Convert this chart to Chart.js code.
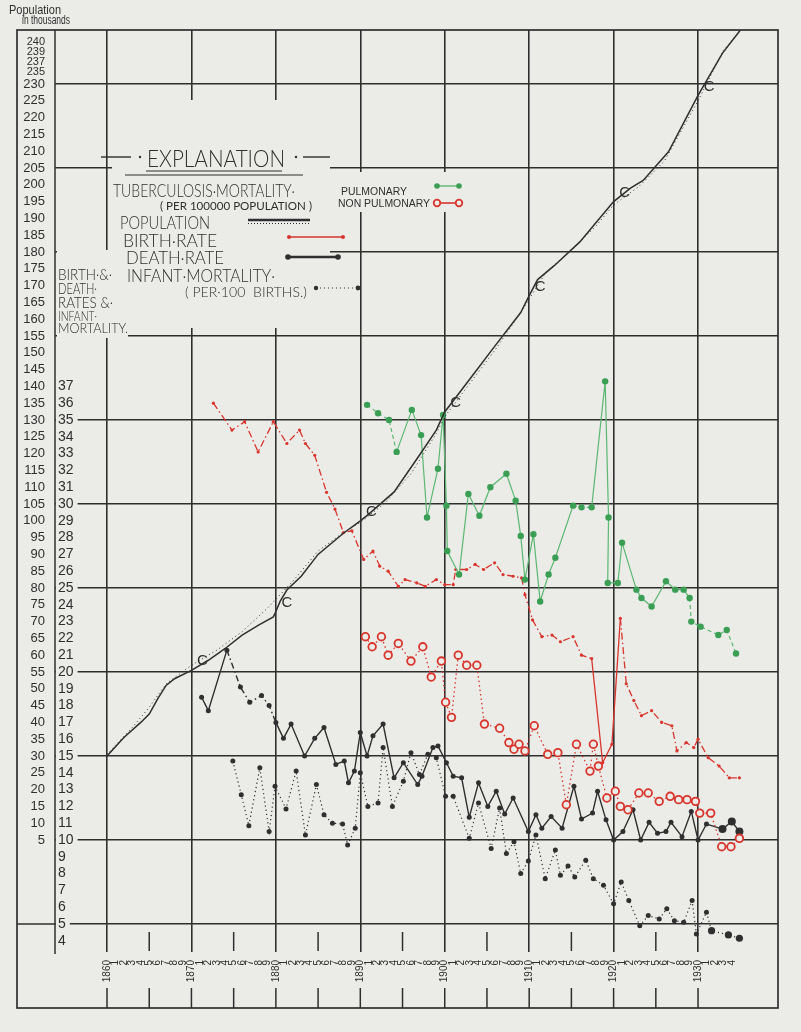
<!DOCTYPE html>
<html><head><meta charset="utf-8">
<script src="https://cdn.jsdelivr.net/npm/chart.js@4.4.1/dist/chart.umd.min.js"></script>
<style>html,body{margin:0;padding:0;background:#ebebe8;}</style>
</head><body>
<canvas id="c" width="801" height="1032"></canvas>
<script>
// ---------- DATA ----------
// x = year, y = value on the chart's scale
const tickYears = Array.from({length: 75}, (_, i) => 1860 + i);   // 1860 .. 1934
const rateTicks = [4,5,6,7,8,9,10,11,12,13,14,15,16,17,18,19,20,21,22,23,24,25,26,27,28,29,30,31,32,33,34,35,36,37];
const rateGridOnly = [40,45,50,55];
const popTicks = [5,10,15,20,25,30,35,40,45,50,55,60,65,70,75,80,85,90,95,100,105,110,115,120,125,130,135,140,145,150,155,160,165,170,175,180,185,190,195,200,205,210,215,220,225,230];
const popTopTick = 238;                       // the crowded top of the population column
const popTopLabels = ['240','239','237','235'];
const censusYears = [1870,1880,1890,1900,1910,1920,1930];

// population in thousands
const population = [[1860,30],[1862,35.5],[1864,40],[1865,42.5],[1866,47],[1867,51],[1868,53],[1870,55.5],[1872,58.5],[1874,62],[1876,66],[1878,69],[1879.7,71.4],[1880,73],[1880.5,76],[1881.3,79.4],[1883,83.5],[1885,90],[1888,96.3],[1890,100],[1891,102],[1894,108.6],[1897,119.5],[1899,127],[1900,132.4],[1903,142.3],[1906,152.2],[1909,162],[1910,167],[1911,171.8],[1913,176],[1916,183],[1918,189],[1920,195],[1922,199],[1923.5,201.3],[1926.5,209.8],[1928,217],[1930,226.6],[1932.9,239.2],[1935,246]];
const populationDotted = [[1860,30.5],[1863,38.5],[1865,44.5],[1867,51.5],[1870,57],[1873,61.5],[1876,67],[1879,74],[1882,82],[1885,91],[1888,96.5],[1890,99.5],[1893,105.5],[1896,114],[1899,126],[1900,131],[1903,141],[1906,151],[1909,162],[1912,174],[1915,180.5],[1918,188],[1920,194],[1923,199.5],[1926,207],[1928,216],[1930,225],[1933,240],[1935,246]];

// birth rate, death rate, infant mortality (rate scale)
const birthRate = [[1872.6,36.0],[1874.8,34.4],[1876.3,34.9],[1877.9,33.1],[1879.7,34.9],[1881.3,33.6],[1882.8,34.4],[1883.5,33.6],[1884.6,32.9],[1886.0,30.7],[1887.0,29.7],[1888.0,28.3],[1889.0,28.4],[1890.4,26.7],[1891.5,27.2],[1892.3,26.3],[1893.3,26.0],[1894.5,25.1],[1895.3,25.5],[1896.7,25.3],[1897.7,25.1],[1899.0,25.5],[1900.0,25.2],[1901.0,25.2],[1901.3,26.1],[1902.6,26.1],[1903.6,26.4],[1904.6,26.1],[1905.9,26.5],[1906.9,25.8],[1908.1,25.7],[1909.1,25.6],[1909.5,24.6],[1910.4,23.1],[1911.5,22.1],[1912.7,22.2],[1913.7,21.8],[1915.2,22.1],[1916.2,21.0],[1917.4,20.8],[1918.7,14.6],[1919.8,15.7],[1920.8,23.2],[1921.5,19.3],[1922.4,18.3],[1923.3,17.4],[1924.5,17.7],[1925.7,17.0],[1926.9,16.8],[1927.5,15.3],[1928.6,15.8],[1929.5,15.5],[1930.0,16.0],[1931.2,14.9],[1932.5,14.4],[1933.7,13.7],[1934.9,13.7]];
const deathRate = [[1871.2,18.5],[1872.0,17.7],[1874.2,21.3],[1875.8,19.1],[1876.9,18.2],[1878.3,18.6],[1879.2,18.0],[1880.0,17.0],[1880.9,16.05],[1881.8,16.9],[1883.4,15.0],[1884.6,16.05],[1885.7,16.7],[1887.1,14.5],[1888.1,14.7],[1888.6,13.4],[1889.3,14.1],[1890.0,16.4],[1890.8,15.0],[1891.5,16.2],[1892.7,16.9],[1894.0,13.7],[1895.1,14.6],[1896.8,13.3],[1897.3,13.8],[1898.6,15.5],[1899.2,15.6],[1900.2,14.6],[1901.0,13.8],[1902.0,13.7],[1902.9,11.35],[1904.0,13.4],[1905.1,12.0],[1906.1,12.9],[1907.1,11.55],[1908.1,12.5],[1909.9,10.5],[1910.8,11.5],[1911.5,10.7],[1912.6,11.4],[1913.9,10.7],[1915.3,13.2],[1916.2,11.25],[1917.5,11.6],[1918.1,12.9],[1919.1,11.2],[1920.0,10.0],[1921.1,10.5],[1922.3,11.8],[1923.2,10.0],[1924.2,11.05],[1925.2,10.4],[1926.2,10.5],[1926.8,11.05],[1928.1,10.2],[1929.2,11.7],[1930.0,10.0],[1931.0,10.95],[1932.9,10.65],[1934.0,11.1],[1934.9,10.5]];
const infantMortality = [[1874.9,14.7],[1875.9,12.7],[1876.8,10.85],[1878.1,14.3],[1879.2,10.5],[1879.9,13.2],[1881.2,11.85],[1882.4,14.1],[1883.5,10.3],[1884.8,13.3],[1885.7,11.5],[1886.7,11.0],[1887.9,10.95],[1888.5,9.7],[1889.4,10.7],[1890.0,14.0],[1890.9,12.0],[1892.1,12.2],[1892.7,15.5],[1893.8,12.0],[1895.1,13.5],[1896.0,15.2],[1897.0,13.9],[1898.0,15.1],[1899.0,14.9],[1900.1,12.6],[1901.0,12.6],[1902.9,10.1],[1904.0,12.2],[1905.5,9.5],[1906.5,11.9],[1907.3,9.2],[1908.2,9.9],[1909.0,8.0],[1909.9,8.75],[1910.8,10.3],[1911.9,7.7],[1913.1,9.4],[1913.7,7.9],[1914.6,8.45],[1915.4,7.8],[1916.7,8.8],[1917.6,7.7],[1918.8,7.3],[1920.0,6.2],[1920.9,7.5],[1921.8,6.4],[1923.1,4.9],[1924.1,5.5],[1925.4,5.3],[1926.3,5.9],[1927.2,5.2],[1928.3,5.1],[1929.3,6.4],[1929.8,4.4],[1931.0,5.7],[1931.6,4.6],[1933.6,4.35],[1934.9,4.15]];

// tuberculosis mortality, as plotted on the rate scale
const tbPulmonary = [[1890.8,35.9],[1892.1,35.4],[1893.4,35.0],[1894.3,33.1],[1896.1,35.6],[1897.2,34.1],[1897.9,29.2],[1899.2,32.1],[1899.8,35.3],[1900.2,29.9],[1900.3,27.2],[1901.7,25.8],[1902.8,30.6],[1904.1,29.3],[1905.4,31.0],[1907.3,31.8],[1908.4,30.2],[1909.0,28.1],[1909.5,25.5],[1910.5,28.2],[1911.3,24.2],[1912.3,25.8],[1913.1,26.8],[1915.2,29.9],[1916.2,29.8],[1917.4,29.8],[1919.0,37.3],[1919.4,29.2],[1919.3,25.3],[1920.5,25.3],[1921.0,27.7],[1922.7,24.9],[1923.3,24.4],[1924.5,23.9],[1926.2,25.4],[1927.3,24.9],[1928.3,24.9],[1929.0,24.4],[1929.2,23.0],[1930.3,22.7],[1932.4,22.2],[1933.4,22.5],[1934.5,21.1]];
const tbNonPulmonary = [[1890.6,22.1],[1891.4,21.5],[1892.5,22.1],[1893.3,21.0],[1894.5,21.7],[1896.0,20.65],[1897.4,21.5],[1898.4,19.7],[1899.6,20.65],[1900.1,18.2],[1900.8,17.3],[1901.6,21.0],[1902.6,20.4],[1903.8,20.4],[1904.7,16.9],[1906.5,16.65],[1907.6,15.8],[1908.2,15.4],[1908.8,15.7],[1909.5,15.3],[1910.6,16.8],[1912.2,15.1],[1913.4,15.2],[1914.4,12.1],[1915.6,15.7],[1917.2,14.1],[1917.6,15.7],[1918.2,14.4],[1919.2,12.5],[1920.2,12.9],[1920.8,12.0],[1921.7,11.8],[1923.0,12.8],[1924.1,12.8],[1925.4,12.3],[1926.7,12.6],[1927.7,12.4],[1928.7,12.4],[1929.7,12.3],[1930.2,11.6],[1931.5,11.6],[1932.8,9.6],[1933.9,9.6],[1934.9,10.1]];

// ---------- STYLE ----------
const BG = '#ebebe8';
const INK = '#2f2f2f';
const RED = '#d8352d';
const GREEN = '#3a9f55';
const GREEN_LINE = '#5cb873';
const FF = '"Liberation Sans", "DejaVu Sans", sans-serif';
const FL = 'Lato, "Liberation Sans", sans-serif';

const pts = arr => arr.map(([x, y]) => ({x, y}));

function fitText(ctx, text, x, y, w, font) {
  ctx.font = font;
  const m = ctx.measureText(text).width;
  ctx.save(); ctx.translate(x, y); ctx.scale(w / m, 1); ctx.fillText(text, 0, 0); ctx.restore();
}
function line(ctx, x1, y1, x2, y2, lw, color, dash) {
  ctx.save(); ctx.beginPath(); ctx.lineWidth = lw; ctx.strokeStyle = color; ctx.setLineDash(dash || []);
  ctx.moveTo(x1, y1); ctx.lineTo(x2, y2); ctx.stroke(); ctx.restore();
}
function dot(ctx, x, y, r, fill, stroke, lw) {
  ctx.save(); ctx.beginPath(); ctx.arc(x, y, r, 0, Math.PI * 2);
  if (fill) { ctx.fillStyle = fill; ctx.fill(); }
  if (stroke) { ctx.lineWidth = lw || 1.5; ctx.strokeStyle = stroke; ctx.stroke(); }
  ctx.restore();
}

const decor = {
  id: 'decor',
  beforeDraw(chart) {
    const ctx = chart.ctx;
    ctx.save(); ctx.fillStyle = BG; ctx.fillRect(0, 0, chart.width, chart.height); ctx.restore();
  },
  beforeDatasetsDraw(chart) {
    // gaps in the grid behind the explanation lettering
    const ctx = chart.ctx;
    ctx.save(); ctx.fillStyle = BG;
    ctx.fillRect(112, 100, 218, 228);
    ctx.fillRect(330, 172, 140, 40);
    ctx.fillRect(57, 250, 71, 88);
    ctx.restore();
  },
  afterDraw(chart) {
    const ctx = chart.ctx;
    const xs = chart.scales.x, ys = chart.scales.y, yp = chart.scales.yPop;
    ctx.save();
    ctx.fillStyle = INK; ctx.textBaseline = 'alphabetic'; ctx.textAlign = 'left';

    // frame
    ctx.lineWidth = 1.7; ctx.strokeStyle = INK;
    ctx.strokeRect(17, 30, 761, 978);
    line(ctx, 55, 30, 55, 954, 1.5, INK);
    const y5 = ys.getPixelForValue(5);
    line(ctx, 17, y5, 55, y5, 1.5, INK);

    // bottom tick marks every five years
    for (let yr = 1860; yr <= 1930; yr += 5) {
      const px = xs.getPixelForValue(yr);
      line(ctx, px, 988, px, 1008, 1.5, INK);
      if (yr % 10 !== 0) line(ctx, px, 932, px, 951, 1.5, INK);
    }

    // header
    fitText(ctx, 'Population', 9, 14, 52, '13px ' + FF);
    fitText(ctx, 'in thousands', 22, 24, 48, '12px ' + FF);

    // explanation
    fitText(ctx, 'EXPLANATION', 147, 167, 138, '300 23px ' + FL);
    line(ctx, 101, 157, 131, 157, 1.4, INK); dot(ctx, 140, 157, 1.2, INK);
    dot(ctx, 296, 157, 1.2, INK); line(ctx, 303, 157, 330, 157, 1.4, INK);
    line(ctx, 146, 171, 282, 171, 1.2, INK);
    line(ctx, 125, 175, 303, 175, 1.2, INK);
    fitText(ctx, 'TUBERCULOSIS·MORTALITY·', 113, 197, 182, '300 17px ' + FL);
    fitText(ctx, '( PER 100000 POPULATION )', 160, 210, 152, '12px ' + FL);
    fitText(ctx, 'POPULATION', 120, 229, 90, '300 17px ' + FL);
    fitText(ctx, 'BIRTH·RATE', 123, 247, 94, '300 17px ' + FL);
    fitText(ctx, 'DEATH·RATE', 126, 264, 98, '300 17px ' + FL);
    fitText(ctx, 'INFANT·MORTALITY·', 127, 282, 148, '300 17px ' + FL);
    fitText(ctx, '( PER·100  BIRTHS.)', 185, 297, 122, '300 14px ' + FL);
    fitText(ctx, 'PULMONARY', 341, 195, 66, '10px ' + FF);
    fitText(ctx, 'NON PULMONARY', 338, 207, 92, '10px ' + FF);
    fitText(ctx, 'BIRTH·&·', 58, 280, 54, '300 15px ' + FL);
    fitText(ctx, 'DEATH·', 58, 294, 39, '300 15px ' + FL);
    fitText(ctx, 'RATES &·', 58, 308, 55, '300 15px ' + FL);
    fitText(ctx, 'INFANT·', 58, 321, 39, '300 13px ' + FL);
    fitText(ctx, 'MORTALITY.', 58, 333, 70, '300 13px ' + FL);

    // legend samples
    line(ctx, 248, 220, 310, 220, 2.5, INK);
    line(ctx, 248, 223.5, 310, 223.5, 1, INK, [1, 2]);
    line(ctx, 289, 237, 343, 237, 1.4, RED); dot(ctx, 289, 237, 2, RED); dot(ctx, 343, 237, 2, RED);
    line(ctx, 288, 257, 338, 257, 2.5, INK); dot(ctx, 288, 257, 2.8, INK); dot(ctx, 338, 257, 2.8, INK);
    line(ctx, 316, 288, 358, 288, 1, INK, [1, 3]); dot(ctx, 316, 288, 2.2, INK); dot(ctx, 358, 288, 2.4, INK);
    line(ctx, 437, 186, 459, 186, 1.4, GREEN_LINE); dot(ctx, 437, 186, 2.8, GREEN); dot(ctx, 459, 186, 2.8, GREEN);
    line(ctx, 440, 203, 456, 203, 1.6, RED); dot(ctx, 437, 203, 3.3, BG, RED, 1.8); dot(ctx, 459, 203, 3.3, BG, RED, 1.8);

    // census marks on the population curve
    ctx.font = '15px ' + FF; ctx.textAlign = 'center'; ctx.textBaseline = 'middle';
    censusYears.forEach(yr => {
      const p = population.find(d => d[0] === yr);
      if (!p) return;
      ctx.fillText('C', xs.getPixelForValue(yr) + 11, yp.getPixelForValue(p[1]) - 9);
    });
    ctx.restore();
  }
};

const birthDash = c => (c.p0.parsed.x >= 1917 && c.p1.parsed.x <= 1921) ? [] : [7, 3, 1.5, 3];
const deathDash = c => (c.p1.parsed.x <= 1880.1 && c.p0.parsed.x >= 1874) ? [6, 3, 1.5, 3] : [];
const pulmDash = c => (c.p1.parsed.x <= 1894.5 || (c.p0.parsed.x >= 1915 && c.p1.parsed.x <= 1917.5) || c.p0.parsed.x >= 1929) ? [4, 3] : [];

new Chart(document.getElementById('c'), {
  type: 'line',
  data: {
    datasets: [
      { label: 'Population', data: pts(population), yAxisID: 'yPop', borderColor: INK, borderWidth: 1.5, pointRadius: 0, tension: 0 },
      { label: 'Population (dotted)', data: pts(populationDotted), yAxisID: 'yPop', borderColor: INK, borderWidth: 1, borderDash: [1, 3], pointRadius: 0, tension: 0 },
      { label: 'Pulmonary', data: pts(tbPulmonary), yAxisID: 'y', borderColor: GREEN_LINE, borderWidth: 1.2, segment: { borderDash: pulmDash },
        pointRadius: 3.2, pointBackgroundColor: GREEN, pointBorderWidth: 0, tension: 0 },
      { label: 'Non pulmonary', data: pts(tbNonPulmonary), yAxisID: 'y', borderColor: RED, borderWidth: 1.3, borderDash: [1.5, 3],
        pointRadius: 3.8, pointBackgroundColor: BG, pointBorderColor: RED, pointBorderWidth: 1.8, tension: 0 },
      { label: 'Birth rate', data: pts(birthRate), yAxisID: 'y', borderColor: RED, borderWidth: 1.3, segment: { borderDash: birthDash },
        pointRadius: 1.6, pointBackgroundColor: RED, pointBorderWidth: 0, tension: 0 },
      { label: 'Death rate', data: pts(deathRate), yAxisID: 'y', borderColor: INK, borderWidth: 1.4, segment: { borderDash: deathDash },
        pointRadius: c => (c.raw && c.raw.x >= 1932.5) ? 4 : 2.5, pointBackgroundColor: INK, pointBorderWidth: 0, tension: 0 },
      { label: 'Infant mortality', data: pts(infantMortality), yAxisID: 'y', borderColor: INK, borderWidth: 1.2, borderDash: [1.2, 3],
        pointRadius: c => (c.raw && c.raw.x >= 1931.5) ? 3.6 : 2.5, pointBackgroundColor: INK, pointBorderWidth: 0, tension: 0 }
    ]
  },
  options: {
    responsive: false, animation: false, devicePixelRatio: 1,
    layout: { padding: { left: 17, right: 23, top: 30, bottom: 24 } },
    plugins: { legend: { display: false }, tooltip: { enabled: false } },
    scales: {
      x: {
        type: 'linear', min: 1853.84, max: 1939.47,
        afterBuildTicks: s => { s.ticks = tickYears.map(v => ({value: v})); },
        afterFit: s => { s.height = 56; },
        grid: { color: c => (c.tick && c.tick.value % 10 === 0) ? INK : 'transparent', lineWidth: 1.6, drawTicks: false },
        border: { display: false },
        ticks: { autoSkip: false, minRotation: 90, maxRotation: 90, padding: 8, color: INK, font: { size: 10, family: FF },
          callback: v => v % 10 === 0 ? String(v) : String(v % 10) }
      },
      y: {
        type: 'linear', position: 'left', weight: 0, min: 3.333, max: 58.214,
        afterBuildTicks: s => { s.ticks = rateTicks.concat(rateGridOnly).map(v => ({value: v})); },
        afterFit: s => { s.width = 0; },
        grid: { color: c => (c.tick && c.tick.value % 5 === 0) ? INK : 'transparent', lineWidth: 1.6, drawTicks: false },
        border: { display: false },
        ticks: { mirror: true, padding: 3, autoSkip: false, color: INK, font: { size: 14, family: FF },
          callback: v => v <= 37 ? String(v) : '',
          showLabelBackdrop: true, backdropColor: c => (c.tick && c.tick.value <= 37) ? BG : 'rgba(0,0,0,0)',
          backdropPadding: { top: 0, bottom: 0, left: 2, right: 4 } }
      },
      yPop: {
        type: 'linear', position: 'left', weight: 1, min: -28.33, max: 246.07,
        afterBuildTicks: s => { s.ticks = popTicks.concat([popTopTick]).map(v => ({value: v})); },
        afterFit: s => { s.width = 38; },
        grid: { display: false, drawTicks: false }, border: { display: false },
        ticks: { autoSkip: false, padding: 10, color: INK,
          callback: v => v === popTopTick ? popTopLabels : String(v),
          font: c => (c.tick && c.tick.value === popTopTick) ? { size: 11, lineHeight: 0.9, family: FF } : { size: 13, family: FF } }
      }
    }
  },
  plugins: [decor]
});
</script>
</body></html>
